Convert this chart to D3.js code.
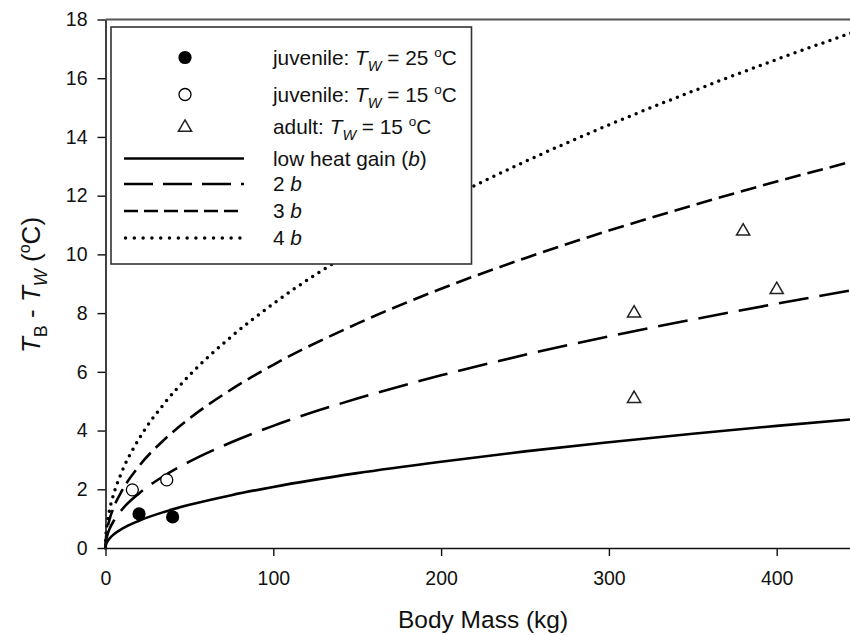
<!DOCTYPE html>
<html>
<head>
<meta charset="utf-8">
<script src="https://cdn.jsdelivr.net/npm/d3@7"></script>
<style>
  html, body { margin: 0; padding: 0; background: #fff; }
  svg { display: block; font-family: "Liberation Sans", Arial, sans-serif; }
</style>
</head>
<body>
<svg id="chart" width="850" height="635"></svg>
<script>
// Body mass (kg) at which each heat-gain curve is sampled
const massKg = [0, 0.25, 1, 2.5, 5, 10, 20, 35, 50, 75, 100, 150, 200, 250, 300, 350, 400, 450];

// Body–water temperature difference (°C) for each heat-gain level
const gain1b = [0, 0.10, 0.21, 0.33, 0.47, 0.66, 0.93, 1.23, 1.47, 1.80, 2.08, 2.55, 2.94, 3.29, 3.60, 3.89, 4.16, 4.41];
const gain2b = [0, 0.21, 0.42, 0.66, 0.93, 1.32, 1.86, 2.46, 2.94, 3.60, 4.16, 5.09, 5.88, 6.58, 7.21, 7.78, 8.32, 8.83];
const gain3b = [0, 0.31, 0.62, 0.99, 1.40, 1.97, 2.79, 3.69, 4.41, 5.40, 6.24, 7.64, 8.83, 9.87, 10.81, 11.67, 12.48, 13.24];
const gain4b = [0, 0.42, 0.83, 1.32, 1.86, 2.63, 3.72, 4.92, 5.88, 7.20, 8.32, 10.19, 11.77, 13.16, 14.41, 15.56, 16.64, 17.65];

// Measured animals
const juv25Mass = [20, 40];
const juv25Diff = [1.16, 1.06];
const juv15Mass = [16, 36.5];
const juv15Diff = [1.98, 2.32];
const adult15Mass = [315, 315, 380, 400];
const adult15Diff = [8.03, 5.12, 10.82, 8.83];

// Axis ticks
const xTicks = [0, 100, 200, 300, 400];
const yTicks = [0, 2, 4, 6, 8, 10, 12, 14, 16, 18];

const svg = d3.select("#chart");

const x = d3.scaleLinear().domain([0, 450]).range([105.5, 860.6]);
const y = d3.scaleLinear().domain([0, 18]).range([548, 19.5]);

const lineStyles = [
  { vals: gain1b, dash: null, width: 2.6, cap: "butt" },
  { vals: gain2b, dash: "30,11", width: 2.6, cap: "butt" },
  { vals: gain3b, dash: "16,7", width: 2.6, cap: "butt" },
  { vals: gain4b, dash: "0,7.4", width: 3.5, cap: "round" }
];

const line = d3.line()
  .x(d => x(d[0]))
  .y(d => y(d[1]))
  .curve(d3.curveMonotoneX);

const curves = svg.append("g");
lineStyles.forEach(s => {
  curves.append("path")
    .datum(massKg.map((m, i) => [m, s.vals[i]]))
    .attr("d", line)
    .attr("fill", "none")
    .attr("stroke", "#000")
    .attr("stroke-width", s.width)
    .attr("stroke-linecap", s.cap)
    .attr("stroke-dasharray", s.dash);
});

// Data points
const pts = svg.append("g");
pts.selectAll("circle.f")
  .data(juv25Mass.map((m, i) => [m, juv25Diff[i]]))
  .join("circle")
  .attr("cx", d => x(d[0])).attr("cy", d => y(d[1]))
  .attr("r", 6.6).attr("fill", "#000");
pts.selectAll("circle.o")
  .data(juv15Mass.map((m, i) => [m, juv15Diff[i]]))
  .join("circle")
  .attr("cx", d => x(d[0])).attr("cy", d => y(d[1]))
  .attr("r", 6).attr("fill", "#fff").attr("stroke", "#000").attr("stroke-width", 1.3);

const tri = d3.symbol().type(d3.symbolTriangle).size(75);
pts.selectAll("path.t")
  .data(adult15Mass.map((m, i) => [m, adult15Diff[i]]))
  .join("path")
  .attr("d", tri)
  .attr("transform", d => `translate(${x(d[0])},${y(d[1]) + 1})`)
  .attr("fill", "#fff").attr("stroke", "#222").attr("stroke-width", 1.5);

// Axes
const xAxis = svg.append("g")
  .attr("transform", "translate(0,548)")
  .call(d3.axisBottom(x).tickValues(xTicks).tickSize(8).tickSizeOuter(0).tickPadding(15));
const yAxis = svg.append("g")
  .attr("transform", "translate(105.5,0)")
  .call(d3.axisLeft(y).tickValues(yTicks).tickSize(8).tickSizeOuter(0).tickPadding(10));

[xAxis, yAxis].forEach(a => {
  a.select(".domain").attr("stroke", "#111").attr("stroke-width", 1.6);
  a.selectAll(".tick line").attr("stroke", "#111").attr("stroke-width", 1.4);
  a.selectAll(".tick text")
    .attr("fill", "#111")
    .style("font-size", "19.5px")
    .style("font-family", "'Liberation Sans', Arial, sans-serif");
});

// Top frame line
svg.append("line")
  .attr("x1", x(0)).attr("x2", x(450))
  .attr("y1", y(18)).attr("y2", y(18))
  .attr("stroke", "#555").attr("stroke-width", 2);

// Axis titles
svg.append("text")
  .attr("x", x(225)).attr("y", 628)
  .attr("text-anchor", "middle")
  .style("font-size", "24.5px")
  .attr("fill", "#111")
  .text("Body Mass (kg)");

const yTitle = svg.append("text")
  .attr("transform", "translate(40,285) rotate(-90)")
  .attr("text-anchor", "middle")
  .style("font-size", "26px")
  .attr("fill", "#111");
yTitle.append("tspan").style("font-style", "italic").text("T");
yTitle.append("tspan").attr("dy", 7).style("font-size", "18px").text("B");
yTitle.append("tspan").attr("dy", -7).text(" - ");
yTitle.append("tspan").style("font-style", "italic").text("T");
yTitle.append("tspan").attr("dy", 7).style("font-size", "18px").style("font-style", "italic").text("W");
yTitle.append("tspan").attr("dy", -7).text(" (");
yTitle.append("tspan").attr("dy", -10).style("font-size", "16px").text("o");
yTitle.append("tspan").attr("dy", 10).text("C)");

// Legend
const legend = svg.append("g");
legend.append("rect")
  .attr("x", 111).attr("y", 27).attr("width", 360.5).attr("height", 237)
  .attr("fill", "#fff").attr("stroke", "#333").attr("stroke-width", 1.6);

const symX = 185, textX = 273, lx0 = 124, lx1 = 244;
const rowY = [57.5, 94.5, 126.5, 158.5, 184, 211, 238];

legend.append("circle").attr("cx", symX).attr("cy", rowY[0]).attr("r", 6.6).attr("fill", "#000");
legend.append("circle").attr("cx", symX).attr("cy", rowY[1]).attr("r", 6)
  .attr("fill", "#fff").attr("stroke", "#000").attr("stroke-width", 1.3);
legend.append("path").attr("d", tri)
  .attr("transform", `translate(${symX},${rowY[2] + 1})`)
  .attr("fill", "#fff").attr("stroke", "#222").attr("stroke-width", 1.5);

const legendDash = [null, "29,10", "14,6", "0,8.8"];
lineStyles.forEach((s, i) => {
  legend.append("line")
    .attr("x1", lx0 + (s.cap === "round" ? 1.5 : 0)).attr("x2", lx1)
    .attr("y1", rowY[3 + i]).attr("y2", rowY[3 + i])
    .attr("stroke", "#000").attr("stroke-width", s.width)
    .attr("stroke-linecap", s.cap)
    .attr("stroke-dasharray", legendDash[i]);
});

function tempLabel(g, prefix, value) {
  g.append("tspan").text(prefix);
  g.append("tspan").style("font-style", "italic").text("T");
  g.append("tspan").attr("dy", 6).style("font-size", "14.5px").style("font-style", "italic").text("W");
  g.append("tspan").attr("dy", -6).text(" = " + value + " ");
  g.append("tspan").attr("dy", -8).style("font-size", "13.5px").text("o");
  g.append("tspan").attr("dy", 8).text("C");
}

const legendFont = "20.8px";
const rowLabels = [
  g => tempLabel(g, "juvenile: ", "25"),
  g => tempLabel(g, "juvenile: ", "15"),
  g => tempLabel(g, "adult: ", "15"),
  g => { g.append("tspan").text("low heat gain ("); g.append("tspan").style("font-style", "italic").text("b"); g.append("tspan").text(")"); },
  g => { g.append("tspan").text("2 "); g.append("tspan").style("font-style", "italic").text("b"); },
  g => { g.append("tspan").text("3 "); g.append("tspan").style("font-style", "italic").text("b"); },
  g => { g.append("tspan").text("4 "); g.append("tspan").style("font-style", "italic").text("b"); }
];
rowLabels.forEach((fn, i) => {
  const t = legend.append("text")
    .attr("x", textX).attr("y", rowY[i] + 7)
    .style("font-size", legendFont)
    .attr("fill", "#111");
  fn(t);
});
</script>
</body>
</html>
